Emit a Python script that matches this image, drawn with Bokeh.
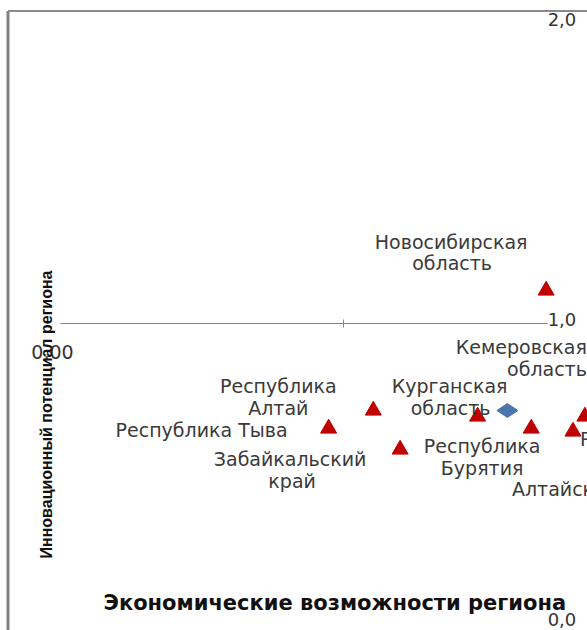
import math
from bokeh.plotting import figure
from bokeh.models import Range1d
from bokeh.embed import file_html
from bokeh.resources import INLINE
from bokeh.core.properties import value

# ---------------- data ----------------
regions = ["Новосибирская область", "Республика Алтай", "Республика Тыва",
           "Забайкальский край", "Курганская область", "Республика Бурятия",
           "Алтайский край", "Кемеровская область"]
econ = [1.68, 1.10, 0.95, 1.19, 1.45, 1.63, 1.77, 1.81]      # Экономические возможности
innov = [1.11, 0.71, 0.65, 0.58, 0.69, 0.65, 0.64, 0.69]     # Инновационный потенциал
avg_econ = [1.55]
avg_innov = [0.71]

x_tick_values = [0.0, 1.0]
x_tick_labels = ["0,00", ""]
y_tick_values = [0.0, 1.0, 2.0]
y_tick_labels = ["0,0", "1,0", "2,0"]
x_axis_min, x_axis_max = 0.05, 1.685
y_cross = 1.0

x_title = "Экономические возможности региона"
y_title = "Инновационный потенциал региона"

# label lines: (text, point index, dx px, dy px, align)
label_lines = [
    ("Новосибирская", 0, -95, -49, "center"),
    ("область", 0, -94, -28, "center"),
    ("Республика", 1, -95, -25, "center"),
    ("Алтай", 1, -95, -3, "center"),
    ("Республика Тыва", 2, -127, 1, "center"),
    ("Забайкальский", 3, -110, 9, "center"),
    ("край", 3, -108, 31, "center"),
    ("Курганская", 4, -28, -31, "center"),
    ("область", 4, -27, -9, "center"),
    ("Республика", 3, 82, -4, "center"),
    ("Бурятия", 3, 82, 18, "center"),
    ("Кемеровская", 7, 2, -70, "right"),
    ("область", 7, 2, -48, "right"),
    ("Алтайский край", 6, -61, 57, "left"),
    ("Республика Хакасия", 6, 7, 7, "left"),
]

# ---------------- layout ----------------
W, H = 587, 630
PX_X, PX_Y = 298.0, 300.0     # pixels per unit
X0_PX, Y0_PX = 45.0, 623.0    # pixel position of value 0


def dx(px):
    return px / PX_X


def dy(px):
    return -px / PX_Y


p = figure(width=W, height=H, output_backend="svg", toolbar_location=None,
           x_range=Range1d(-X0_PX / PX_X, (W - X0_PX) / PX_X),
           y_range=Range1d(-(H - Y0_PX) / PX_Y, Y0_PX / PX_Y),
           x_axis_location=None, y_axis_location=None, min_border=0)
p.grid.visible = False
p.outline_line_color = None
p.background_fill_color = "white"
p.border_fill_color = "white"

xr, yr = p.x_range, p.y_range
# chart border (left and top)
left_x = xr.start + dx(7.5)
top_y = yr.end + dy(10.5)
p.segment(x0=[left_x], y0=[top_y], x1=[left_x], y1=[yr.start], line_color="#808080", line_width=3)
p.segment(x0=[left_x], y0=[top_y], x1=[xr.end], y1=[top_y], line_color="#8a8a8a", line_width=2)

# horizontal axis crossing at y = 1
p.segment(x0=[x_axis_min], y0=[y_cross], x1=[x_axis_max], y1=[y_cross],
          line_color="#868686", line_width=1)
p.scatter(x=x_tick_values[1:], y=[y_cross] * len(x_tick_values[1:]), marker="dash",
          angle=math.pi / 2, size=8, line_color="#868686", line_width=1)
p.text(x=[x_tick_values[0] + dx(7)], y=[y_cross + dy(28)], text=[x_tick_labels[0]],
       text_font=value("DejaVu Sans"), text_font_size="19px", text_color="#333333",
       text_align="center", text_baseline="middle")

# vertical axis labels
p.text(x=[x_axis_max] * len(y_tick_values), y=[v + dy(-4) for v in y_tick_values], text=y_tick_labels,
       text_font=value("DejaVu Sans"), text_font_size="18px", text_color="#333333",
       text_align="left", text_baseline="middle")

# points
p.scatter(x=econ, y=innov, marker="triangle", size=16,
          fill_color="#C00000", line_color="#C00000")
p.scatter(x=avg_econ, y=avg_innov, marker="diamond", size=21, angle=math.pi / 2,
          fill_color="#4A76AC", line_color="#4A76AC")

# data labels
for align in ("center", "left", "right"):
    rows = [r for r in label_lines if r[4] == align]
    p.text(x=[econ[i] + dx(ox) for _, i, ox, oy, _ in rows],
           y=[innov[i] + dy(oy) for _, i, ox, oy, _ in rows],
           text=[t for t, *_ in rows],
           text_font=value("DejaVu Sans"), text_font_size="19px", text_color="#3a3a3a",
           text_align=align, text_baseline="middle")

# axis titles
p.text(x=[dx(103 - X0_PX)], y=[dy(602 - Y0_PX)], text=[x_title],
       text_font=value("DejaVu Sans"), text_font_size="21px", text_font_style="bold",
       text_color="#111111", text_align="left", text_baseline="middle")
p.text(x=[dx(46 - X0_PX)], y=[dy(414 - Y0_PX)], text=[y_title], angle=math.pi / 2,
       text_font=value("Liberation Sans"), text_font_size="16px", text_font_style="bold",
       text_color="#111111", text_align="center", text_baseline="middle")

open("out.html", "w").write(file_html(p, INLINE))
